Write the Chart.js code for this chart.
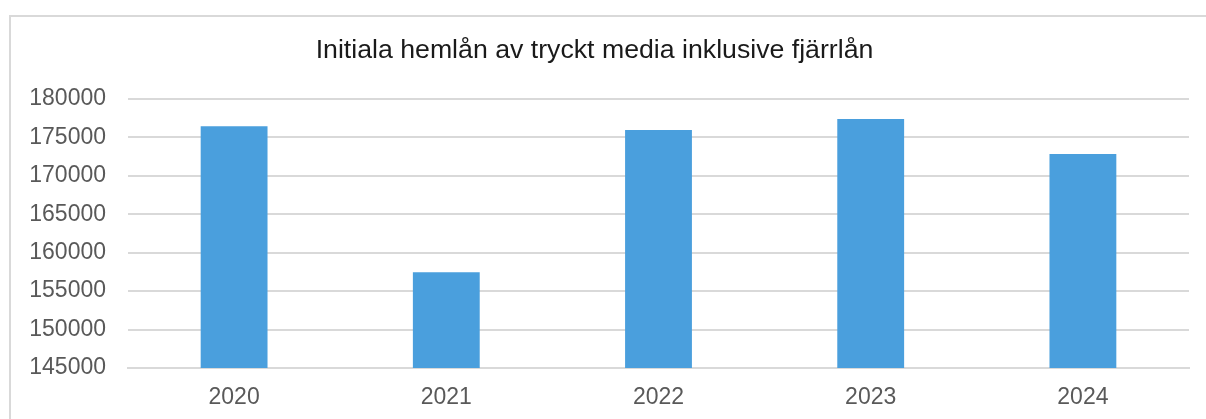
<!DOCTYPE html>
<html>
<head>
<meta charset="utf-8">
<script src="https://cdn.jsdelivr.net/npm/chart.js@4"></script>
<style>
  html, body { margin: 0; padding: 0; background: #fff; }
  #frame {
    position: absolute; left: 9px; top: 15px;
    width: 1210px; height: 420px;
    border: 2px solid #d9d9d9; box-sizing: border-box;
  }
  #wrap { position: absolute; left: 0; top: 0; width: 1206px; height: 419px; }
</style>
</head>
<body>
<div id="frame"></div>
<div id="wrap"><canvas id="loans_chart"></canvas></div>
<script>
// Initiala hemlån av tryckt media inklusive fjärrlån
const years = ["2020", "2021", "2022", "2023", "2024"];
const loans = [176450, 157450, 175970, 177400, 172840];
const yMin = 145000;
const yMax = 180000;
const yStep = 5000;

const font = "'Liberation Sans', Arial, sans-serif";

const loansChart = new Chart(document.getElementById("loans_chart"), {
    type: "bar",
    data: {
        labels: years,
        datasets: [{
            data: loans,
            backgroundColor: "#4a9fdd",
            barPercentage: 0.315,
            categoryPercentage: 1
        }]
    },
    options: {
        responsive: true,
        maintainAspectRatio: false,
        animation: false,
        layout: { padding: { left: 0, right: 17, top: 0, bottom: 0 } },
        plugins: {
            legend: { display: false },
            tooltip: { enabled: false },
            title: {
                display: true,
                text: "Initiala hemlån av tryckt media inklusive fjärrlån",
                color: "#1a1a1a",
                font: { family: font, size: 26.7, weight: "normal" },
                padding: { top: 35, bottom: 32 }
            }
        },
        scales: {
            x: {
                grid: { display: false, drawTicks: false },
                border: { color: "#d9d9d9", width: 2 },
                ticks: { color: "#595959", font: { family: font, size: 23 }, padding: 16 },
                afterFit: (s) => { s.height = 51; }
            },
            y: {
                min: yMin,
                max: yMax,
                grid: { color: "#d9d9d9", lineWidth: 2, drawTicks: false },
                border: { display: false },
                ticks: {
                    stepSize: yStep,
                    color: "#595959",
                    font: { family: font, size: 23 },
                    padding: 22,
                    callback: (v) => String(v)
                },
                afterFit: (s) => { s.width = 128; }
            }
        }
    }
});
</script>
</body>
</html>
